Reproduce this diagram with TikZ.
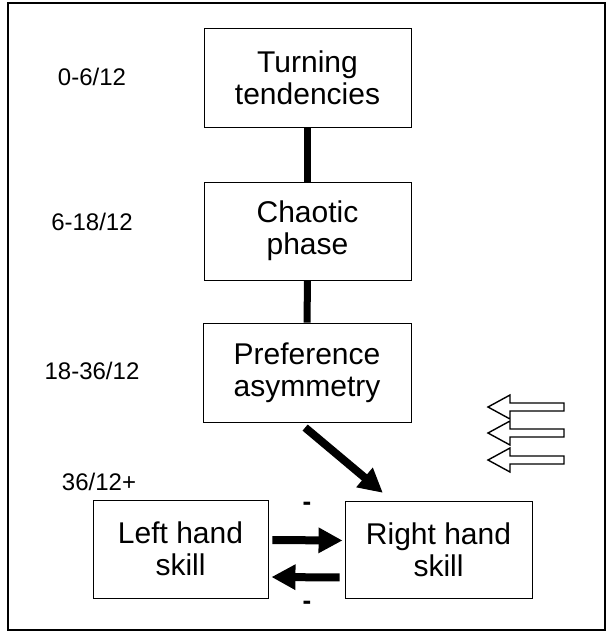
\documentclass[tikz,border=0pt]{standalone}
\usepackage{fontspec}
\setmainfont{Liberation Sans}
\usetikzlibrary{arrows.meta}
\begin{document}
\begin{tikzpicture}[x=1pt,y=-1pt,
  stage/.style={draw, line width=0.9pt, align=center, font=\fontsize{30}{32}\selectfont, inner sep=0pt},
  age/.style={font=\fontsize{24}{28}\selectfont, anchor=base, inner sep=0pt},
  minus/.style={font=\bfseries\fontsize{26}{28}\selectfont, anchor=base, inner sep=0pt},
  link/.style={line width=7pt},
  bigarrow/.style={line width=8pt, -{Triangle[length=24pt,width=24pt]}},
  hollow/.style={draw, line width=1.4pt, fill=white, line join=miter}]
\useasboundingbox (0,0) rectangle (608,635);
\draw[line width=1.5pt] (8,3) rectangle (605,630);
% stages
\node[stage, minimum width=207pt, minimum height=99pt] (T) at (307.5,77.5) {Turning\\tendencies};
\node[stage, minimum width=207pt, minimum height=98pt] (C) at (307.5,231) {Chaotic\\phase};
\node[stage, minimum width=208pt, minimum height=99pt] (P) at (307,372.5) {Preference\\asymmetry};
\node[stage, minimum width=175pt, minimum height=98pt] (L) at (180.5,549) {Left hand\\skill};
\node[stage, minimum width=187pt, minimum height=97pt] (R) at (438.5,549.5) {Right hand\\skill};
% ages
\node[age] (a1) at (92,85) {0-6/12};
\node[age] (a2) at (92,230) {6-18/12};
\node[age] (a3) at (92,379) {18-36/12};
\node[age] (a4) at (99,490) {36/12+};
% minus signs
\node[minus] (m1) at (307,510) {-};
\node[minus] (m2) at (307,609) {-};
% connectors
\draw[link] (T.south) -- (C.north);
\draw[link] (C.south) -- (P.north);
\coordinate (dtip) at ([xshift=47.5pt]R.north west);
\draw[bigarrow, shorten <=8pt, shorten >=12pt] ([xshift=-8pt]P.south) -- (dtip);
\draw[bigarrow, shorten <=4pt, shorten >=2pt] ([yshift=9pt]L.east) -- ([yshift=9pt]R.west);
\draw[bigarrow, shorten <=5pt, shorten >=3pt] ([yshift=-28pt]R.west) -- ([yshift=-28pt]L.east);
% hollow arrows
\foreach \yy in {407,433,460}
  \draw[hollow] (488,\yy) -- (510,\yy-12) -- (510,\yy-4) -- (564,\yy-4)
    -- (564,\yy+4) -- (510,\yy+4) -- (510,\yy+12) -- cycle;
\end{tikzpicture}
\end{document}
